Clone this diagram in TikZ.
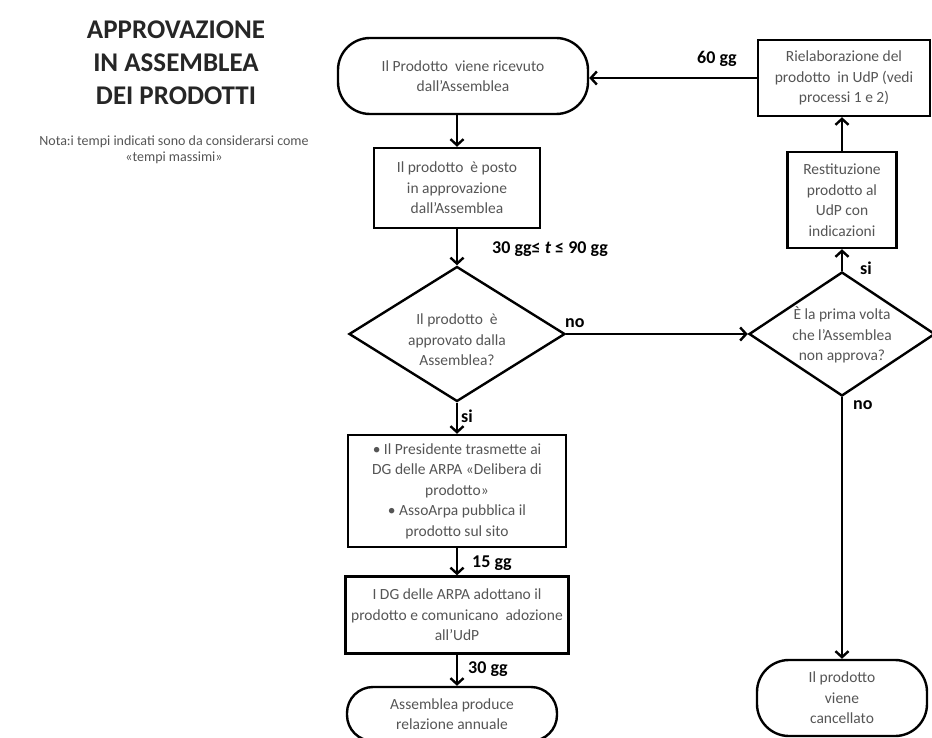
\documentclass[tikz,border=0pt]{standalone}
\usepackage{fontspec}
\setmainfont{Carlito}
\usetikzlibrary{shapes.geometric,arrows.meta}
\definecolor{txtgray}{HTML}{555555}
\begin{document}
\begin{tikzpicture}[x=1pt,y=-1pt,
  boxtext/.style={text=txtgray, font=\fontsize{15.5}{20.5}\selectfont, align=center},
  procbox/.style={draw, line width=2.4pt, rectangle, boxtext, inner sep=1pt},
  term/.style={procbox, rounded corners=32pt},
  dec/.style={draw, diamond, line width=2.4pt, inner sep=0pt},
  lbl/.style={font=\bfseries\fontsize{18}{20}\selectfont, anchor=west, inner sep=0pt},
  arr/.style={line width=2.4pt, -{Straight Barb[length=6pt,width=13pt]}}]
\useasboundingbox (0,0) rectangle (932,738);

\node[font=\bfseries\fontsize{27}{33}\selectfont, align=center, text=black!85] (title) at (176,63) {APPROVAZIONE\\IN ASSEMBLEA\\DEI PRODOTTI};
\node[boxtext, font=\fontsize{14}{16}\selectfont] (nota) at (174,150) {Nota:i tempi indicati sono da considerarsi come\\«tempi massimi»};

\node[term, minimum width=250pt, minimum height=76pt] (start) at (463,76) {Il Prodotto\ \ viene ricevuto\\dall'Assemblea};
\node[procbox, minimum width=166pt, minimum height=80pt] (b2) at (457,188) {Il prodotto\ \ è posto\\in approvazione\\dall'Assemblea};
\node[dec, minimum width=216pt, minimum height=135pt] (d1) at (457,334) {};
\node[boxtext] (d1t) at (457,340) {Il prodotto\ \ è\\approvato dalla\\Assemblea?};
\node[procbox, minimum width=218pt, minimum height=112pt] (b3) at (457,491) {• Il Presidente trasmette ai\\DG delle ARPA «Delibera di\\prodotto»\\• AssoArpa pubblica il\\prodotto sul sito};
\node[procbox, minimum width=223pt, minimum height=77pt] (b4) at (457,615) {I DG delle ARPA adottano il\\prodotto e comunicano\ \ adozione\\all'UdP};
\node[term, rounded corners=26pt, minimum width=210pt, minimum height=54pt] (end) at (452,714) {Assemblea produce\\relazione annuale};

\node[dec, minimum width=186pt, minimum height=124pt] (d2) at (842,334) {};
\node[boxtext] (d2t) at (842,335) {È la prima volta\\che l'Assemblea\\non approva?};
\node[procbox, minimum width=109pt, minimum height=96pt] (rest) at (842,200) {Restituzione\\prodotto al\\UdP con\\indicazioni};
\node[procbox, minimum width=172pt, minimum height=76pt] (riel) at (844,78) {Rielaborazione del\\prodotto\ \ in UdP (vedi\\processi 1 e 2)};
\node[term, minimum width=170pt, minimum height=76pt] (cancel) at (842,698) {Il prodotto\\viene\\cancellato};

\draw[arr] (start.south -| b2.north) -- (b2.north);
\draw[arr] (b2.south) -- (d1.north);
\draw[arr] (d1.south) -- (b3.north);
\draw[arr] (b3.south) -- (b4.north);
\draw[arr] (b4.south) -- (b4.south |- end.north);
\draw[arr] (d1.east) -- (d2.west);
\draw[arr] (d2.north) -- (rest.south);
\draw[arr] (rest.north) -- (rest.north |- riel.south);
\draw[arr] (riel.west) -- (riel.west -| start.east);
\draw[arr] (d2.south) -- (cancel.north);

\node[lbl] (l1) at (492,249) {30 gg≤ \textit{t} ≤ 90 gg};
\node[lbl] (l2) at (697,59) {60 gg};
\node[lbl] (l3) at (472,563) {15 gg};
\node[lbl] (l4) at (468,669) {30 gg};
\node[lbl] (l5) at (461,416) {si};
\node[lbl] (l6) at (565,323) {no};
\node[lbl] (l7) at (860,268) {si};
\node[lbl] (l8) at (853,405) {no};
\end{tikzpicture}
\end{document}
